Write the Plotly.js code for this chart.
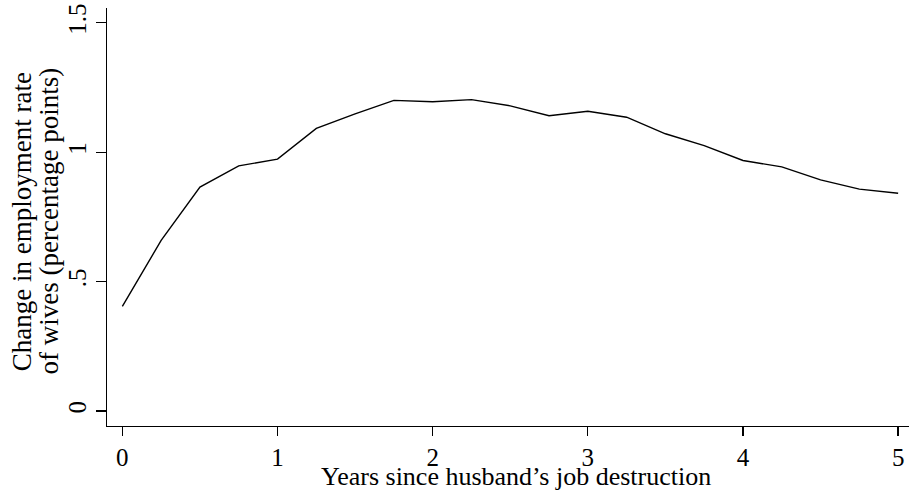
<!DOCTYPE html>
<html>
<head>
<meta charset="utf-8">
<script src="https://cdn.plot.ly/plotly-3.0.1.min.js"></script>
<style>html,body{margin:0;padding:0;background:#fff;}#chart{width:909px;height:490px;}</style>
</head>
<body>
<div id="chart"></div>
<script>
// Years since husband's job destruction
const years = [0, 0.25, 0.5, 0.75, 1, 1.25, 1.5, 1.75, 2, 2.25, 2.5, 2.75, 3, 3.25, 3.5, 3.75, 4, 4.25, 4.5, 4.75, 5];
// Change in employment rate of wives (percentage points)
const change = [0.404, 0.659, 0.865, 0.947, 0.973, 1.092, 1.148, 1.200, 1.195, 1.203, 1.179, 1.141, 1.158, 1.135, 1.071, 1.025, 0.968, 0.943, 0.893, 0.857, 0.841];
const xTicks = [0, 1, 2, 3, 4, 5];
const xTickLabels = ['0', '1', '2', '3', '4', '5'];
const yTicks = [0, 0.5, 1, 1.5];
const yTickLabels = ['0', '.5', '1', '1.5'];
const xTitle = 'Years since husband\u2019s job destruction';
const yTitleLines = ['Change in employment rate', 'of wives (percentage points)'];

const fam = 'Liberation Serif, Times New Roman, serif';
const f = (s) => ({family: fam, size: s, color: '#000'});

Plotly.newPlot('chart', [{
  x: years, y: change, type: 'scatter', mode: 'lines',
  line: {color: '#000', width: 1.4}, hoverinfo: 'skip'
}], {
  width: 909, height: 490,
  margin: {l: 107, r: 0, t: 8, b: 64},
  paper_bgcolor: '#fff', plot_bgcolor: '#fff',
  showlegend: false,
  font: f(26),
  xaxis: {
    range: [-0.099, 5.07], tickvals: xTicks, ticktext: xTickLabels,
    showgrid: false, zeroline: false, showline: true, linecolor: '#000', linewidth: 1.3,
    ticks: 'outside', ticklen: 9, tickwidth: 1.3, tickcolor: '#000',
    tickfont: f(25)
  },
  yaxis: {
    range: [-0.058, 1.557], tickvals: yTicks, ticktext: yTickLabels, tickangle: -90,
    showgrid: false, zeroline: false, showline: true, linecolor: '#000', linewidth: 1.3,
    ticks: 'outside', ticklen: 10, tickwidth: 1.3, tickcolor: '#000',
    tickfont: f(25)
  },
  annotations: [
    {text: xTitle, xref: 'paper', yref: 'paper', x: 0.5097, y: -0.12,
     xanchor: 'center', yanchor: 'middle', showarrow: false, font: f(26)},
    {text: yTitleLines[0], xref: 'paper', yref: 'paper', x: -0.106, y: 0.49, textangle: -90,
     xanchor: 'center', yanchor: 'middle', showarrow: false, font: f(27)},
    {text: yTitleLines[1], xref: 'paper', yref: 'paper', x: -0.072, y: 0.49, textangle: -90,
     xanchor: 'center', yanchor: 'middle', showarrow: false, font: f(27)}
  ]
}, {displayModeBar: false, staticPlot: true});
</script>
</body>
</html>
